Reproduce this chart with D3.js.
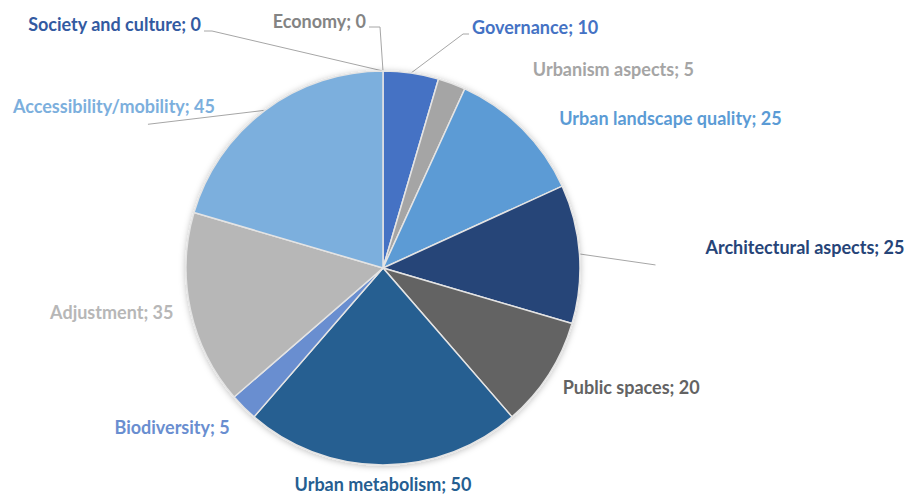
<!DOCTYPE html>
<html>
<head>
<meta charset="utf-8">
<script src="https://cdn.jsdelivr.net/npm/d3@7/dist/d3.min.js"></script>
<style>
  html, body { margin: 0; padding: 0; background: #fff; }
  svg text { font-family: Lato, "Open Sans", sans-serif; font-weight: bold; }
</style>
</head>
<body>
<svg id="chart" width="912" height="495"></svg>
<script>
// ---- data ----
const categories = [
  "Governance", "Urbanism aspects", "Urban landscape quality", "Architectural aspects",
  "Public spaces", "Urban metabolism", "Biodiversity", "Adjustment",
  "Accessibility/mobility", "Society and culture", "Economy"
];
const values = [10, 5, 25, 25, 20, 50, 5, 35, 45, 0, 0];
const colors = [
  "#4472C4", "#A5A5A5", "#5B9BD5", "#264478",
  "#636363", "#255E91", "#698ED0", "#B7B7B7",
  "#7CAFDD", "#335AA1", "#848484"
];
// label placement relative to the slice's outer point at mid-angle: [dx, dy, anchor]
const labelOffsets = [
  [61, -45, "start"], [81, -14, "start"], [37, -10, "start"], [126, -6, "start"],
  [14, 13, "start"], [0, 20, "middle"], [-14, 20, "end"], [-17, 3, "end"],
  [-50, -4, "end"], [-182, -46, "end"], [-17, -49, "end"]
];
// leader lines relative to the slice's outer point
const leaders = [
  [[0,0],[52,-39],[58,-39]], null, null, [[0,0],[76,11]],
  null, null, null, null,
  [[0,0],[-117,14]], [[0,0],[-171,-40],[-179,-40]], [[0,0],[-3,-44],[-14,-44]]
];

const svg = d3.select("#chart");
const cx = 383, cy = 268, R = 197;

const defs = svg.append("defs");
const f = defs.append("filter").attr("id", "shadow")
  .attr("x", "-20%").attr("y", "-20%").attr("width", "140%").attr("height", "140%");
f.append("feDropShadow").attr("dx", 0).attr("dy", 1).attr("stdDeviation", 3)
  .attr("flood-color", "#000").attr("flood-opacity", 0.25);

const data = categories.map((c, i) => ({ name: c, value: values[i], color: colors[i], i }));
const pie = d3.pie().value(d => d.value).sort(null).startAngle(0).endAngle(2 * Math.PI);
const arcs = pie(data);
const arc = d3.arc().innerRadius(0).outerRadius(R);

const g = svg.append("g").attr("transform", `translate(${cx},${cy})`);

// leader lines
const pointAt = (a) => [R * Math.sin(a), -R * Math.cos(a)];
arcs.forEach((a, i) => {
  const mid = (a.startAngle + a.endAngle) / 2;
  const p = pointAt(mid);
  if (leaders[i]) {
    const pts = leaders[i].map(o => [p[0] + o[0], p[1] + o[1]]);
    g.append("path")
      .attr("d", d3.line()(pts))
      .attr("fill", "none")
      .attr("stroke", "#A6A6A6")
      .attr("stroke-width", 1);
  }
});

const sg = g.append("g").attr("filter", "url(#shadow)");
sg.selectAll("path.slice")
  .data(arcs.filter(a => a.data.value > 0))
  .join("path")
  .attr("class", "slice")
  .attr("d", arc)
  .attr("fill", d => d.data.color)
  .attr("stroke", "#E4E4E4")
  .attr("stroke-width", 1.5);

// labels
arcs.forEach((a, i) => {
  const mid = (a.startAngle + a.endAngle) / 2;
  const p = pointAt(mid);
  const o = labelOffsets[i];
  g.append("text")
    .attr("x", p[0] + o[0])
    .attr("y", p[1] + o[1])
    .attr("dy", "0.35em")
    .attr("text-anchor", o[2])
    .attr("fill", a.data.color)
    .attr("font-size", 18)
    .text(`${a.data.name}; ${a.data.value}`);
});
</script>
</body>
</html>
